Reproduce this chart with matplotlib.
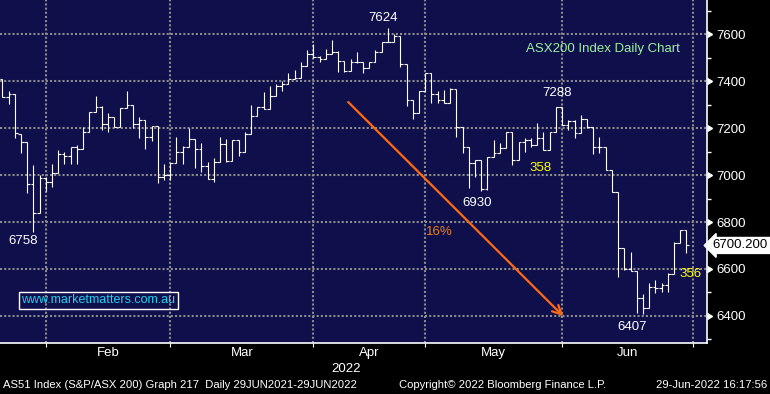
import matplotlib
matplotlib.use("Agg")
import matplotlib.pyplot as plt
import numpy as np

plt.rcParams['font.family'] = ['Liberation Sans', 'DejaVu Sans']

# ---------------- data (ASX200 daily OHLC) ----------------
opens = [7407, 7331, 7343, 7173, 7139, 6962, 6837, 6986, 6971, 7007,
         7089, 7081, 7120, 7109, 7184, 7267, 7288, 7216, 7246, 7206,
         7284, 7297, 7218, 7233, 7162, 7209, 6990, 7000, 7050, 7097,
         7120, 7153, 7111, 7038, 6982, 7054, 7131, 7061, 7148, 7097,
         7173, 7250, 7291, 7280, 7337, 7379, 7387, 7409, 7411, 7464,
         7515, 7501, 7492, 7517, 7525, 7486, 7443, 7482, 7482, 7457,
         7480, 7525, 7567, 7567, 7591, 7472, 7319, 7263, 7359, 7435,
         7345, 7319, 7305, 7365, 7206, 7120, 7050, 7064, 6939, 7078,
         7095, 7116, 7182, 7064, 7142, 7149, 7128, 7156, 7106, 7182,
         7288, 7213, 7231, 7177, 7237, 7206, 7120, 7120, 7021, 6929,
         6688, 6599, 6593, 6475, 6433, 6522, 6518, 6532, 6579, 6709,
         6766]
highs = [7407, 7359, 7343, 7173, 7139, 7043, 7000, 6993, 7047, 7106,
         7099, 7120, 7128, 7206, 7267, 7336, 7294, 7263, 7248, 7284,
         7359, 7297, 7248, 7233, 7209, 7209, 7047, 7050, 7163, 7125,
         7199, 7153, 7135, 7054, 7071, 7163, 7153, 7150, 7148, 7182,
         7297, 7291, 7354, 7379, 7387, 7400, 7433, 7447, 7482, 7532,
         7557, 7506, 7535, 7574, 7528, 7486, 7492, 7525, 7482, 7482,
         7532, 7567, 7624, 7602, 7591, 7472, 7319, 7359, 7435, 7435,
         7359, 7362, 7369, 7365, 7206, 7120, 7064, 7064, 7078, 7149,
         7135, 7182, 7182, 7142, 7156, 7156, 7220, 7184, 7184, 7288,
         7288, 7234, 7234, 7255, 7237, 7206, 7160, 7120, 7021, 6929,
         6688, 6674, 6593, 6494, 6539, 6553, 6539, 6584, 6716, 6766,
         6766]
lows = [7331, 7301, 7156, 7092, 6925, 6758, 6837, 6933, 6950, 7007,
        7047, 7047, 7047, 7109, 7184, 7267, 7191, 7184, 7203, 7203,
        7284, 7201, 7159, 7112, 7146, 6965, 6979, 6979, 7050, 7046,
        7120, 7029, 7014, 6982, 6971, 7054, 7054, 7061, 7082, 7097,
        7173, 7250, 7280, 7280, 7337, 7359, 7387, 7409, 7411, 7464,
        7499, 7481, 7492, 7517, 7440, 7440, 7443, 7475, 7433, 7454,
        7480, 7525, 7567, 7567, 7461, 7294, 7237, 7263, 7359, 7305,
        7305, 7305, 7305, 7163, 7095, 6943, 6993, 6930, 6936, 7078,
        7092, 7115, 7043, 7064, 7099, 7120, 7128, 7106, 7106, 7182,
        7213, 7191, 7156, 7177, 7199, 7089, 7095, 7021, 6929, 6567,
        6596, 6593, 6414, 6407, 6433, 6497, 6503, 6503, 6579, 6709,
        6669]
closes = [7331, 7343, 7177, 7139, 6962, 6837, 6986, 6971, 7007, 7089,
          7081, 7120, 7109, 7184, 7267, 7288, 7216, 7246, 7206, 7284,
          7297, 7218, 7233, 7162, 7209, 6990, 7000, 7050, 7097, 7120,
          7153, 7111, 7038, 6982, 7054, 7131, 7061, 7148, 7097, 7173,
          7250, 7291, 7280, 7337, 7379, 7387, 7409, 7411, 7464, 7515,
          7501, 7492, 7517, 7525, 7486, 7443, 7482, 7482, 7457, 7480,
          7525, 7567, 7567, 7591, 7472, 7319, 7263, 7359, 7435, 7345,
          7319, 7305, 7365, 7206, 7120, 7050, 7064, 6939, 7078, 7095,
          7116, 7182, 7064, 7142, 7149, 7128, 7156, 7106, 7182, 7288,
          7213, 7231, 7177, 7237, 7206, 7120, 7120, 7021, 6929, 6688,
          6599, 6593, 6475, 6433, 6522, 6518, 6532, 6579, 6709, 6766,
          6700.2]

month_start_idx = [7, 27, 50, 68, 90, 111]   # first trading day of Feb..Jul
month_labels = ["Feb", "Mar", "Apr", "May", "Jun"]
y_ticks = [6400, 6600, 6800, 7000, 7200, 7400, 7600]
last_price = 6700.2

peak_labels = [("7624", 61.2, 7668), ("7288", 89.2, 7349), ("6930", 76.3, 6881),
               ("6758", 3.3, 6719), ("6407", 101.2, 6353)]
range_labels = [("358", 86.6, 7030), ("356", 110.7, 6579)]
arrow_start = (55.3, 7319)
arrow_end = (90.5, 6391)
pct_label = ("16%", 70.2, 6757)

# ---------------- figure ----------------
W, H = 770, 394
fig = plt.figure(figsize=(W / 100, H / 100), dpi=100, facecolor="black")
ax = fig.add_axes([0, 51 / H, 706.7 / W, 343 / H])
navy = "#0f0f4b"
ax.set_facecolor(navy)

x = np.arange(len(opens))
tick_w = 0.45
ax.vlines(x, lows, highs, color="white", lw=0.8)
ax.hlines(opens, x - tick_w, x, color="white", lw=0.8)
ax.hlines(closes, x, x + tick_w, color="white", lw=0.8)

ax.set_xlim(-0.37, 113.25)
ax.set_ylim(6285, 7745)

# grid
ax.set_xticks(month_start_idx)
ax.set_yticks(y_ticks)
ax.grid(True, color="#8c8c8c", linestyle=(0, (1, 1)), linewidth=1.5)
ax.set_axisbelow(True)

# spines
for s in ["top", "left"]:
    ax.spines[s].set_visible(False)
ax.spines["bottom"].set_color("white")
ax.spines["right"].set_color("white")
ax.spines["bottom"].set_linewidth(1.2)
ax.spines["right"].set_linewidth(1.2)

# x ticks
ax.tick_params(axis="x", which="major", direction="out", length=3, color="white",
               labelbottom=False)
mid = [(a + b) / 2 for a, b in zip(month_start_idx[:-1], month_start_idx[1:])]
ax.set_xticks(mid, minor=True)
ax.set_xticklabels(month_labels, minor=True)
ax.tick_params(axis="x", which="minor", length=0, pad=3, labelcolor="white", labelsize=9.5)

# y ticks on right
ax.yaxis.tick_right()
ax.tick_params(axis="y", which="major", length=0, pad=7, labelcolor="white", labelsize=9.5)
ax.set_yticks(np.arange(6300, 7800, 100), minor=True)
ax.tick_params(axis="y", which="minor", direction="out", length=3, color="white", width=1)
ax.plot(np.ones(len(y_ticks)), y_ticks, linestyle="none", marker=9, markersize=5,
        color="white", transform=ax.get_yaxis_transform(), clip_on=False)

# year label
ax.text(55.3, -0.076, "2022", transform=ax.get_xaxis_transform(), color="white",
        fontsize=9.5, ha="center", va="center")

# annotations
for t, xx, yy in peak_labels:
    ax.text(xx, yy, t, color="white", fontsize=9.5, ha="center", va="center")
for t, xx, yy in range_labels:
    ax.text(xx, yy, t, color="#ffff00", fontsize=9.5, ha="center", va="center")
ax.annotate("", xy=arrow_end, xytext=arrow_start,
            arrowprops=dict(arrowstyle="->", color="#ff6a10", lw=1.6, mutation_scale=16))
ax.text(pct_label[1], pct_label[2], pct_label[0], color="#e8801a", fontsize=9.5,
        ha="center", va="center")

ax.text(680 / 706.7, (343 - 49) / 343, "ASX200 Index Daily Chart", transform=ax.transAxes,
        color="#9cf09c", fontsize=9.5, ha="right", va="center")

ax.text(98 / 706.7, (343 - 300) / 343, "www.marketmatters.com.au", transform=ax.transAxes,
        color="#1ed2f0", fontsize=9, ha="center", va="center",
        bbox=dict(boxstyle="square,pad=0.2", fc="none", ec="white", lw=1))

# last price box
ax.text(1.0 + 6 / 706.7, last_price, f"{last_price:.3f}", transform=ax.get_yaxis_transform(),
        color="black", fontsize=9.5, ha="left", va="center", clip_on=False,
        bbox=dict(boxstyle="larrow,pad=0.15", fc="white", ec="white"))

# footer
fy = (H - 385) / H
fig.text(3 / W, fy, "AS51 Index (S&P/ASX 200) Graph 217  Daily 29JUN2021-29JUN2022",
         color="white", fontsize=8.1, ha="left", va="center")
fig.text(399 / W, fy, "Copyright\u00a9 2022 Bloomberg Finance L.P.", color="white",
         fontsize=8.1, ha="left", va="center")
fig.text(767 / W, fy, "29-Jun-2022 16:17:56", color="white", fontsize=8.1,
         ha="right", va="center")

fig.savefig("out.png", dpi=100, facecolor="black")
